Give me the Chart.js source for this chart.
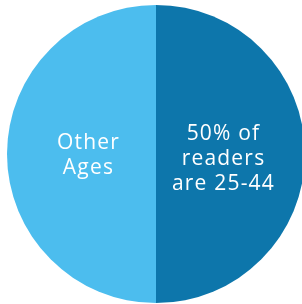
<!DOCTYPE html>
<html>
<head>
<meta charset="utf-8">
<script src="https://cdn.jsdelivr.net/npm/chart.js@4"></script>
<style>
  html, body { margin: 0; padding: 0; background: #fff; overflow: hidden; }
  #wrap { width: 306px; height: 304px; position: relative; }
</style>
</head>
<body>
<div id="wrap"><canvas id="pie"></canvas></div>
<script>
// 데이터
const sliceNames = ['50% of readers are 25-44', 'Other Ages'];
const sliceValues = [50, 50];
const sliceColors = ['#0d76ab', '#4cbdee'];
const sliceLines = [['50% of', 'readers', 'are 25-44'], ['Other', 'Ages']];

// 조각 안에 흰 글씨
const insideLabels = {
    id: 'insideLabels',
    afterDatasetsDraw(chart) {
        const ctx = chart.ctx;
        const meta = chart.getDatasetMeta(0);
        ctx.save();
        ctx.fillStyle = '#ffffff';
        ctx.font = '21px "Open Sans"';
        ctx.letterSpacing = '1.2px';
        ctx.textAlign = 'center';
        ctx.textBaseline = 'middle';
        const lineH = 25;
        meta.data.forEach((arc, i) => {
            const p = arc.getProps(['x', 'y', 'startAngle', 'endAngle', 'outerRadius'], true);
            const mid = (p.startAngle + p.endAngle) / 2;
            const r = p.outerRadius * 0.453;
            const cx = p.x + Math.cos(mid) * r;
            const cy = p.y + Math.sin(mid) * r + (i === 0 ? 5 : 2);
            const lines = sliceLines[i];
            lines.forEach((t, k) => {
                ctx.fillText(t, cx, cy + (k - (lines.length - 1) / 2) * lineH);
            });
        });
        ctx.restore();
    }
};

new Chart(document.getElementById('pie'), {
    type: 'pie',
    data: {
        labels: sliceNames,
        datasets: [{ data: sliceValues, backgroundColor: sliceColors, borderWidth: 0 }]
    },
    options: {
        responsive: true, maintainAspectRatio: false, animation: false,
        layout: { padding: { left: 7, right: 1, top: 5, bottom: 1 } },
        plugins: { legend: { display: false }, tooltip: { enabled: false } }
    },
    plugins: [insideLabels]
});
</script>
</body>
</html>
